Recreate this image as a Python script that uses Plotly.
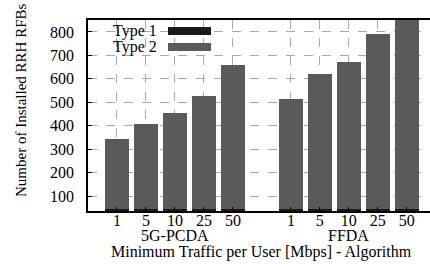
import plotly.graph_objects as go

algorithms = ["5G-PCDA", "FFDA"]
traffic = ["1", "5", "10", "25", "50"]
type1 = [44, 44, 44, 44, 44, 44, 44, 44, 44, 44]
total = [345, 407, 455, 528, 660, 515, 621, 672, 791, 870]
type2 = [t - a for t, a in zip(total, type1)]

yticks = [100, 200, 300, 400, 500, 600, 700, 800]

# positions: categories within each algorithm, with one empty slot between groups
xpos = []
xlab = []
for g, alg in enumerate(algorithms):
    for i, t in enumerate(traffic):
        xpos.append(g * (len(traffic) + 1) + i)
        xlab.append(t)

font = "Liberation Serif, Times New Roman, serif"
FS = 16

fig = go.Figure()
fig.add_trace(go.Bar(x=xpos, y=type1, name="Type 1", marker_color="#1a1a1a",
                     marker_line_width=0, width=0.83, showlegend=False))
fig.add_trace(go.Bar(x=xpos, y=type2, name="Type 2", marker_color="#5a5a5a",
                     marker_line_width=0, width=0.83, showlegend=False))

fig.update_layout(
    barmode="stack",
    width=430, height=264,
    margin=dict(l=88, r=0, t=20, b=53, autoexpand=False),
    plot_bgcolor="white", paper_bgcolor="white",
    font=dict(family=font, size=FS, color="black"),
)
fig.update_xaxes(
    range=[-1, 10.8], tickvals=xpos, ticktext=xlab, automargin=False,
    showgrid=True, gridcolor="#a8a8a8", griddash="dash", gridwidth=1,
    showline=True, linecolor="black", linewidth=1.5, mirror=True,
    ticks="inside", ticklen=4, tickcolor="black", zeroline=False,
    tickfont=dict(size=FS), ticklabelstandoff=-6,
)
fig.update_yaxes(
    range=[36, 851], tickvals=yticks, automargin=False,
    showgrid=True, gridcolor="#a8a8a8", griddash="dash", gridwidth=1,
    showline=True, linecolor="black", linewidth=1.5, mirror=True,
    ticks="inside", ticklen=4, tickcolor="black", zeroline=False,
    tickfont=dict(size=FS), ticklabelstandoff=9,
)

# y-axis title
fig.add_annotation(x=0, y=(191 - (101 - 20)) / 191, xref="paper", yref="paper",
                   xshift=-77, textangle=-90, text="Number of Installed RRH RFBs",
                   showarrow=False, font=dict(size=15))

# group labels under tick labels
for g, alg in enumerate(algorithms):
    center = g * (len(traffic) + 1) + (len(traffic) - 1) / 2
    fig.add_annotation(x=center, y=0, xref="x", yref="paper", yshift=-24,
                       yanchor="middle", text=alg, showarrow=False, font=dict(size=FS))
fig.add_annotation(x=(261 - 88) / 342, y=0, xref="paper", yref="paper", yshift=-41,
                   yanchor="middle", text="Minimum Traffic per User [Mbps] - Algorithm",
                   showarrow=False, font=dict(size=FS))

# legend (gnuplot style: text then swatch)
legend_items = [("Type 1", "#1a1a1a"), ("Type 2", "#5a5a5a")]
for k, (name, col) in enumerate(legend_items):
    ycen = 1 - (11 + 16 * k) / 191
    fig.add_annotation(x=(159 - 88) / 342, y=ycen, xref="paper", yref="paper",
                       xanchor="right", yanchor="middle", text=name,
                       showarrow=False, font=dict(size=FS))
    fig.add_shape(type="rect", xref="paper", yref="paper",
                  x0=(168 - 88) / 342, x1=(211 - 88) / 342,
                  y0=ycen - 4 / 191, y1=ycen + 4 / 191,
                  fillcolor=col, line_width=0, layer="above")

fig.write_html("out.html", config={"displayModeBar": False})
with open("out.html", encoding="utf-8") as f:
    html = f.read()
html = html.replace("<head>", "<head><style>html,body{margin:0;padding:0;overflow:hidden;}</style>", 1)
with open("out.html", "w", encoding="utf-8") as f:
    f.write(html)
